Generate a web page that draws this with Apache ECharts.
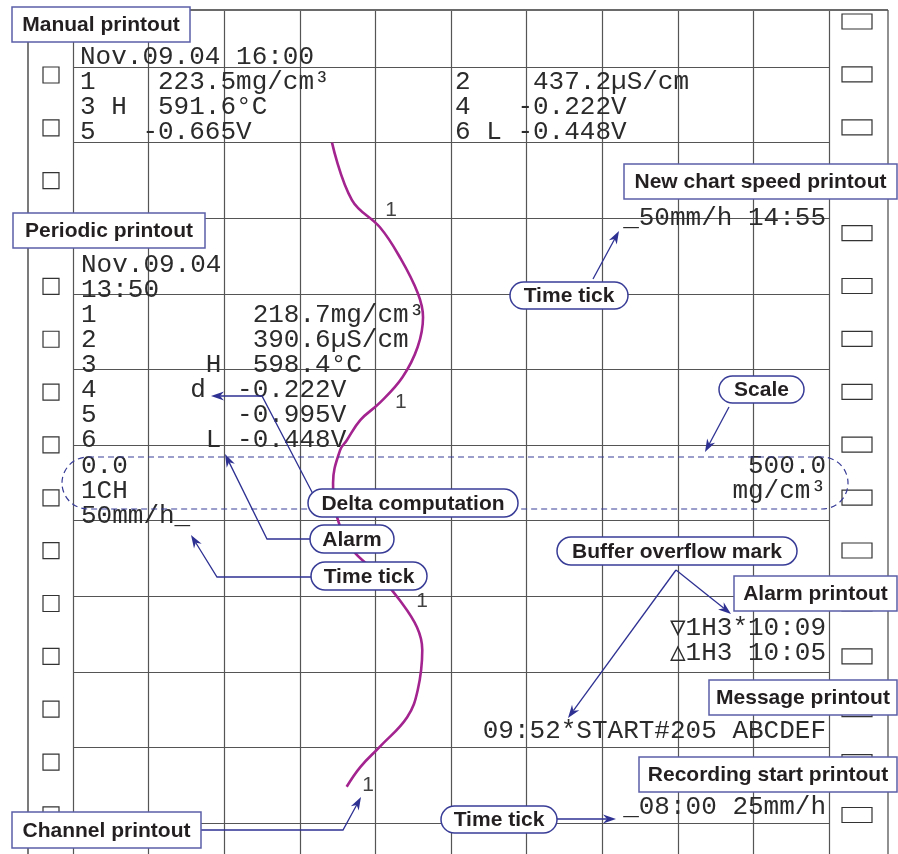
<!DOCTYPE html>
<html>
<head>
<meta charset="utf-8">
<script src="https://cdn.jsdelivr.net/npm/echarts@6/dist/echarts.min.js"></script>
<style>
  html, body { margin: 0; padding: 0; background: #fff; }
  #chart { width: 898px; height: 854px; }
</style>
</head>
<body>
<div id="chart"></div>
<script>
// channel 1 scale across the paper (mg/cm3)
const scaleMin = 0
const scaleMax = 500
const scaleStep = 50
// paper length shown, in chart divisions (downwards)
const divMax = 10

// channel 1 trace: position down the paper (div) and value (mg/cm3)
const traceTime = [1.0, 1.76, 2.12, 2.51, 2.99, 3.31, 3.70, 4.10, 4.44, 4.67, 4.94, 5.07, 5.50, 5.95, 6.39, 6.69, 7.05, 7.41, 7.71, 8.24, 8.60, 8.99, 9.26, 9.52]
const traceValue = [171.3, 184.5, 203, 216, 228, 231.5, 228, 218, 203, 190, 181, 176.6, 172, 174.6, 185, 201, 216, 227.5, 231, 228, 221, 203, 190, 181]

// channel number printed beside the trace
const chanTime = [1.89, 4.44, 7.06, 9.50]
const chanValue = [210.3, 216.9, 230.8, 195.1]
const chanName = '1'

// printouts
const manualLeft = ['Nov.09.04 16:00', '1    223.5mg/cm³', '3 H  591.6°C', '5   -0.665V']
const manualRight = ['2    437.2µS/cm', '4   -0.222V', '6 L -0.448V']
const periodicLines = ['Nov.09.04', '13:50', '1          218.7mg/cm³', '2          390.6µS/cm', '3       H  598.4°C', '4      d  -0.222V', '5         -0.995V', '6       L -0.448V']
const scaleLeft = ['0.0', '1CH', '50mm/h_']
const scaleRight = ['500.0', 'mg/cm³']
const speedLines = ['_50mm/h 14:55']
const alarmLines = ['▽1H3*10:09', '△1H3 10:05']
const messageLines = ['09:52*START#205 ABCDEF']
const startLines = ['_08:00 25mm/h']

// callout names
const boxNames = ['Manual printout', 'Periodic printout', 'New chart speed printout', 'Alarm printout', 'Message printout', 'Recording start printout', 'Channel printout']
const pillNames = ['Time tick', 'Scale', 'Delta computation', 'Alarm', 'Time tick', 'Buffer overflow mark', 'Time tick']

const chart = echarts.init(document.getElementById('chart'))

const mono = '26px "Liberation Mono", "DejaVu Sans Mono", monospace'
const sans = 'bold 21px "Liberation Sans", Arial, sans-serif'
const ink = '#231f20'
const blue = '#2e3192'
const lineGap = 25

// block of printed lines
function textLines(lines, x, y0, align) {
  return lines.map((t, i) => ({
    type: 'text', x: x, y: y0 + i * lineGap, z: 5,
    style: { text: t, font: mono, fill: '#2b2b2b', align: align || 'left', verticalAlign: 'middle' }
  }))
}

// labelled box, square or pill shaped
function callout(text, x1, y1, x2, y2, pill) {
  const h = y2 - y1
  return [
    { type: 'rect', z: 20, shape: { x: x1, y: y1, width: x2 - x1, height: h, r: pill ? h / 2 : 0 },
      style: { fill: '#fff', stroke: pill ? '#383c96' : '#5b5ea8', lineWidth: 1.5 } },
    { type: 'text', z: 21, x: (x1 + x2) / 2, y: (y1 + y2) / 2 + 1,
      style: { text: text, font: sans, fill: ink, align: 'center', verticalAlign: 'middle' } }
  ]
}

// leader line ending in an arrow head
function arrow(pts) {
  const [x2, y2] = pts[pts.length - 1]
  const [x1, y1] = pts[pts.length - 2]
  const a = Math.atan2(y2 - y1, x2 - x1)
  const len = 13, w = 4.5
  const c = Math.cos(a), s = Math.sin(a)
  const bx = x2 - len * c, by = y2 - len * s
  const inner = [x2 - len * 0.7 * c, y2 - len * 0.7 * s]
  return [
    { type: 'polyline', z: 15, shape: { points: pts.slice(0, -1).concat([inner]) },
      style: { stroke: blue, lineWidth: 1.3, fill: 'none' } },
    { type: 'polygon', z: 15, shape: { points: [[x2, y2], [bx - s * w, by + c * w], inner, [bx + s * w, by - c * w]] },
      style: { fill: blue } }
  ]
}

const elements = []

// paper edges
elements.push(
  { type: 'line', z: 1, shape: { x1: 28, y1: 10, x2: 888, y2: 10 }, style: { stroke: '#6a6a6a', lineWidth: 2 } },
  { type: 'line', z: 1, shape: { x1: 28, y1: 10, x2: 28, y2: 854 }, style: { stroke: '#333', lineWidth: 1.3 } },
  { type: 'line', z: 1, shape: { x1: 888, y1: 10, x2: 888, y2: 854 }, style: { stroke: '#555', lineWidth: 1.3 } }
)
// sprocket holes
for (let k = -1; k < 15; k++) {
  elements.push({ type: 'rect', z: 2, shape: { x: 43, y: 67 + k * 52.85, width: 16, height: 16 },
    style: { fill: '#fff', stroke: '#333', lineWidth: 1.2 } })
}
for (let k = 0; k < 16; k++) {
  elements.push({ type: 'rect', z: 2, shape: { x: 842, y: 14 + k * 52.9, width: 30, height: 15 },
    style: { fill: '#fff', stroke: '#333', lineWidth: 1.2 } })
}

// printed text
elements.push(
  ...textLines(manualLeft, 80, 57),
  ...textLines(manualRight, 455, 82),
  ...textLines(periodicLines, 81, 265),
  ...textLines(scaleLeft, 81, 466),
  ...textLines(scaleRight, 826, 466, 'right'),
  ...textLines(speedLines, 826, 218, 'right'),
  ...textLines(alarmLines, 826, 628, 'right'),
  ...textLines(messageLines, 826, 731, 'right'),
  ...textLines(startLines, 826, 807, 'right')
)

// scale outline
elements.push({ type: 'rect', z: 12, shape: { x: 62, y: 457, width: 786, height: 52, r: 26 },
  style: { fill: 'none', stroke: '#383c96', lineWidth: 1.2, lineDash: [6, 4] } })

// leaders
elements.push(
  ...arrow([[593, 279], [619, 231]]),
  ...arrow([[729, 407], [705, 452]]),
  ...arrow([[313, 494], [262, 396], [211, 396]]),
  ...arrow([[310, 539], [267, 539], [225, 454]]),
  ...arrow([[311, 577], [217, 577], [191, 535]]),
  ...arrow([[676, 570], [731, 614]]),
  ...arrow([[676, 570], [568, 718]]),
  ...arrow([[201, 830], [343, 830], [361, 797]]),
  ...arrow([[557, 819], [616, 819]])
)

// callouts
const boxPos = [[12, 7, 190, 42], [13, 213, 205, 248], [624, 164, 897, 199], [734, 576, 897, 611], [709, 680, 897, 715], [639, 757, 897, 792], [12, 812, 201, 848]]
const pillPos = [[510, 282, 628, 309], [719, 376, 804, 403], [308, 489, 518, 517], [310, 525, 394, 553], [311, 562, 427, 590], [557, 537, 797, 565], [441, 806, 557, 833]]
boxNames.forEach((n, i) => elements.push(...callout(n, ...boxPos[i], false)))
pillNames.forEach((n, i) => elements.push(...callout(n, ...pillPos[i], true)))

const gridLine = { show: true, lineStyle: { color: '#555', width: 1.2 } }

chart.setOption({
  animation: false,
  backgroundColor: '#fff',
  grid: [
    { left: 73, right: 69, top: 67, bottom: 31 },
    { left: 73, right: 69, top: 10, bottom: 0 }
  ],
  xAxis: [
    { gridIndex: 0, type: 'value', min: scaleMin, max: scaleMax, interval: scaleStep,
      axisLine: { show: false }, axisTick: { show: false }, axisLabel: { show: false }, splitLine: { show: false } },
    { gridIndex: 1, type: 'value', min: scaleMin, max: scaleMax, interval: scaleStep,
      axisLine: { show: false }, axisTick: { show: false }, axisLabel: { show: false }, splitLine: gridLine }
  ],
  yAxis: [
    { gridIndex: 0, type: 'value', min: 0, max: divMax, interval: 1, inverse: true,
      axisLine: { show: false }, axisTick: { show: false }, axisLabel: { show: false }, splitLine: gridLine },
    { gridIndex: 1, type: 'value', min: 0, max: divMax, show: false, splitLine: { show: false } }
  ],
  series: [
    {
      name: 'CH1', type: 'line', xAxisIndex: 0, yAxisIndex: 0, z: 3,
      data: traceTime.map((t, i) => [traceValue[i], t]),
      smooth: 0.4, showSymbol: false,
      lineStyle: { color: '#a3238f', width: 2.6 }
    },
    {
      name: 'CH1 mark', type: 'scatter', xAxisIndex: 0, yAxisIndex: 0, z: 4,
      data: chanTime.map((t, i) => [chanValue[i], t]),
      symbolSize: 1, itemStyle: { color: 'rgba(0,0,0,0)' },
      label: {
        show: true, position: 'inside', formatter: chanName, fontSize: 21, color: '#111',
        fontFamily: '"Liberation Sans", Arial, sans-serif', textBorderWidth: 0
      },
      emphasis: { disabled: true }
    }
  ],
  graphic: { elements: elements }
})
</script>
</body>
</html>
